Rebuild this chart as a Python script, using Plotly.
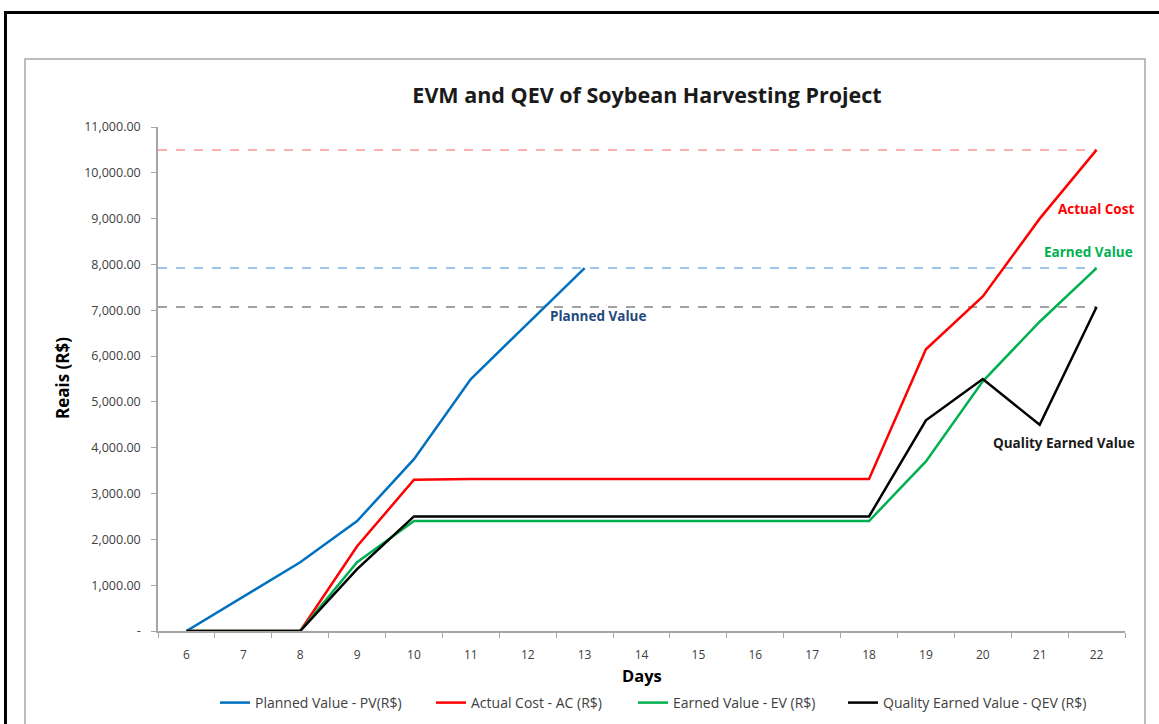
import plotly.graph_objects as go

days = list(range(6, 23))
pv_days = list(range(6, 14))
planned_value = [0, 750, 1500, 2400, 3750, 5500, 6700, 7920]
actual_cost = [0, 0, 0, 1850, 3300, 3320, 3320, 3320, 3320, 3320, 3320, 3320, 3320, 6150, 7300, 9000, 10500]
earned_value = [0, 0, 0, 1500, 2400, 2400, 2400, 2400, 2400, 2400, 2400, 2400, 2400, 3700, 5450, 6750, 7920]
quality_ev = [0, 0, 0, 1350, 2500, 2500, 2500, 2500, 2500, 2500, 2500, 2500, 2500, 4600, 5500, 4500, 7070]
y_ticks = list(range(0, 12000, 1000))

FONT = "'Open Sans', Lato, sans-serif"

fig = go.Figure()

# reference dashed lines at final values
x_ref = [5.5, 22]
fig.add_trace(go.Scatter(x=x_ref, y=[actual_cost[-1]] * 2, mode="lines", showlegend=False,
                         line=dict(color="rgba(245,80,80,0.6)", width=1.5, dash="dash"), hoverinfo="skip"))
fig.add_trace(go.Scatter(x=x_ref, y=[planned_value[-1]] * 2, mode="lines", showlegend=False,
                         line=dict(color="rgba(40,130,210,0.6)", width=1.5, dash="dash"), hoverinfo="skip"))
fig.add_trace(go.Scatter(x=x_ref, y=[quality_ev[-1]] * 2, mode="lines", showlegend=False,
                         line=dict(color="rgba(90,90,90,0.75)", width=1.5, dash="dash"), hoverinfo="skip"))

fig.add_trace(go.Scatter(x=pv_days, y=planned_value, mode="lines", name="Planned Value - PV(R$)",
                         line=dict(color="#0070C0", width=2.5), legend="legend"))
fig.add_trace(go.Scatter(x=days, y=actual_cost, mode="lines", name="Actual Cost - AC (R$)",
                         line=dict(color="#FF0000", width=2.5), legend="legend2"))
fig.add_trace(go.Scatter(x=days, y=earned_value, mode="lines", name="Earned Value - EV (R$)",
                         line=dict(color="#00B050", width=2.5), legend="legend3"))
fig.add_trace(go.Scatter(x=days, y=quality_ev, mode="lines", name="Quality Earned Value - QEV (R$)",
                         line=dict(color="#000000", width=2.5), legend="legend4"))

W, H = 1159, 724
L, R, T, B = 158, 34, 127, 93
pw, ph = W - L - R, H - T - B

def px(xs):  # screen x -> paper
    return (xs - L) / pw

def py(ys):  # screen y -> paper
    return (H - B - ys) / ph

shapes = [
    dict(type="rect", xref="paper", yref="paper", x0=px(5.5), x1=px(1175), y0=py(745), y1=py(12.5),
         line=dict(color="black", width=3), fillcolor="rgba(0,0,0,0)", layer="below"),
    dict(type="rect", xref="paper", yref="paper", x0=px(25), x1=px(1145), y0=py(745), y1=py(59),
         line=dict(color="#A6A6A6", width=1.5), fillcolor="rgba(0,0,0,0)", layer="below"),
]

ann_font = dict(size=13.5, family=FONT)
annotations = [
    dict(text="<b>Reais (R$)</b>", xref="paper", yref="paper", x=px(62), y=py(378), textangle=-90,
         xanchor="center", yanchor="middle",
         showarrow=False, font=dict(size=17, color="#000000", family=FONT)),
    dict(text="<b>Days</b>", xref="paper", yref="paper", x=px(642), y=py(675),
         xanchor="center", yanchor="middle",
         showarrow=False, font=dict(size=16.5, color="#000000", family=FONT)),
    dict(text="<b>Planned Value</b>", xref="x", yref="y", x=13.24, y=6880, showarrow=False,
         xanchor="center", yanchor="middle", font=dict(ann_font, color="#1F497D")),
    dict(text="<b>Actual Cost</b>", xref="x", yref="y", x=21.99, y=9210, showarrow=False,
         xanchor="center", yanchor="middle", font=dict(ann_font, color="#FF0000")),
    dict(text="<b>Earned Value</b>", xref="x", yref="y", x=21.85, y=8271, showarrow=False,
         xanchor="center", yanchor="middle", font=dict(ann_font, color="#00B050")),
    dict(text="<b>Quality Earned Value</b>", xref="x", yref="y", x=21.43, y=4103, showarrow=False,
         xanchor="center", yanchor="middle", font=dict(ann_font, color="#1a1a1a")),
]

legend_starts = [222, 438, 640, 850]

def legend_cfg(x_screen):
    return dict(orientation="h", xref="container", x=(x_screen - 7) / W, xanchor="left",
                yref="container", y=(H - 703) / H, yanchor="middle",
                font=dict(size=14, color="#404040", family=FONT), bgcolor="rgba(0,0,0,0)")

fig.update_layout(
    width=W, height=H,
    margin=dict(l=L, r=R, t=T, b=B, autoexpand=False),
    paper_bgcolor="white", plot_bgcolor="white",
    font=dict(family=FONT, color="#404040"),
    title=dict(text="<b>EVM and QEV of Soybean Harvesting Project</b>", x=647 / W, xanchor="center",
               y=(H - 95) / H, yanchor="middle", yref="container",
               font=dict(size=21.5, color="#1a1a1a", family=FONT)),
    xaxis=dict(range=[5.5, 22.5], tickvals=days, ticktext=[str(d) for d in days], ticks="",
               showgrid=False, zeroline=False, showline=True, linecolor="#A6A6A6", linewidth=1.5,
               tickfont=dict(size=12, color="#404040"), ticklabelstandoff=12,
               minor=dict(tick0=5.5, dtick=1, ticks="outside", ticklen=5, tickcolor="#A6A6A6", showgrid=False)),
    yaxis=dict(range=[0, 11000], tickvals=y_ticks,
               ticktext=["-" if v == 0 else f"{v:,.2f}" for v in y_ticks],
               ticks="outside", ticklen=5, tickcolor="#A6A6A6",
               showgrid=False, zeroline=False, showline=True, linecolor="#A6A6A6", linewidth=1.5,
               tickfont=dict(size=12.5, color="#404040"), ticklabelstandoff=8),
    legend=legend_cfg(legend_starts[0]),
    legend2=legend_cfg(legend_starts[1]),
    legend3=legend_cfg(legend_starts[2]),
    legend4=legend_cfg(legend_starts[3]),
    shapes=shapes,
    annotations=annotations,
)

fig.write_html("out.html", config={"displayModeBar": False},
               post_script="document.body.style.margin='0px';")
